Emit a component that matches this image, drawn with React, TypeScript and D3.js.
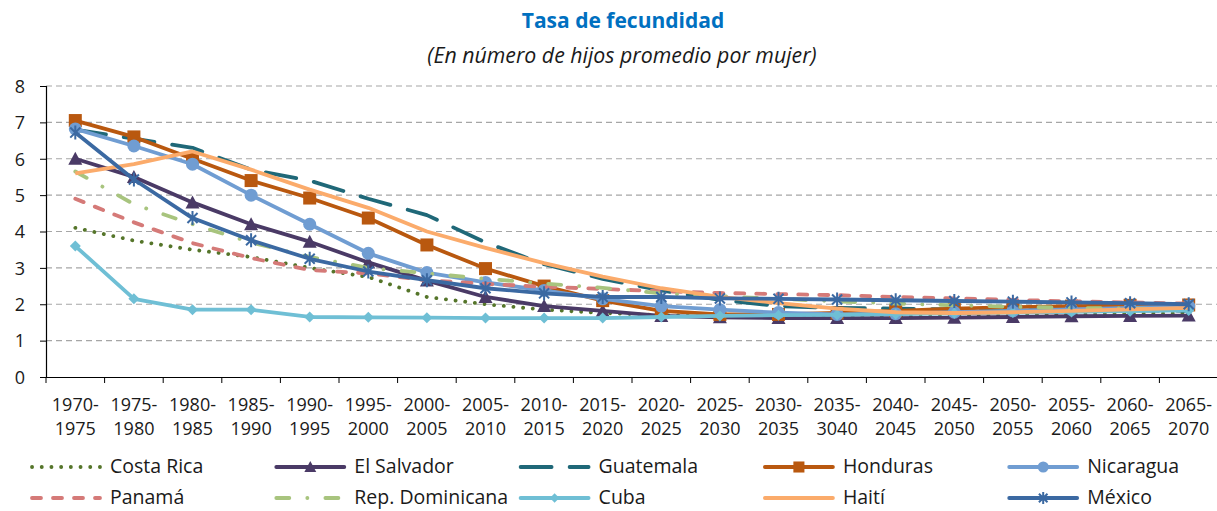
import React, { useRef, useEffect } from "react";
import * as d3 from "d3";

const periodStart = ["1970-", "1975-", "1980-", "1985-", "1990-", "1995-", "2000-", "2005-", "2010-", "2015-", "2020-", "2025-", "2030-", "2035-", "2040-", "2045-", "2050-", "2055-", "2060-", "2065-"];
const periodEnd = ["1975", "1980", "1985", "1990", "1995", "2000", "2005", "2010", "2015", "2020", "2025", "2030", "2035", "3040", "2045", "2050", "2055", "2060", "2065", "2070"];
const yTicks = [0, 1, 2, 3, 4, 5, 6, 7, 8];

const costaRica = [4.1, 3.75, 3.5, 3.3, 3.0, 2.75, 2.2, 2.0, 1.85, 1.76, 1.7, 1.67, 1.65, 1.65, 1.66, 1.68, 1.7, 1.72, 1.74, 1.76];
const elSalvador = [6.0, 5.5, 4.8, 4.2, 3.72, 3.15, 2.65, 2.2, 1.95, 1.82, 1.68, 1.64, 1.62, 1.62, 1.62, 1.63, 1.65, 1.67, 1.68, 1.69];
const guatemala = [6.8, 6.55, 6.3, 5.7, 5.4, 4.9, 4.45, 3.7, 3.1, 2.7, 2.38, 2.12, 1.95, 1.9, 1.88, 1.86, 1.85, 1.84, 1.83, 1.82];
const honduras = [7.05, 6.6, 6.0, 5.4, 4.92, 4.37, 3.63, 2.98, 2.5, 2.1, 1.82, 1.72, 1.72, 1.76, 1.82, 1.88, 1.92, 1.95, 1.97, 1.98];
const nicaragua = [6.82, 6.35, 5.85, 5.0, 4.2, 3.4, 2.87, 2.6, 2.38, 2.15, 1.95, 1.85, 1.77, 1.72, 1.74, 1.78, 1.82, 1.86, 1.9, 1.95];
const panama = [4.9, 4.25, 3.68, 3.27, 2.94, 2.85, 2.66, 2.56, 2.48, 2.42, 2.36, 2.31, 2.28, 2.25, 2.2, 2.16, 2.12, 2.08, 2.05, 2.02];
const repDominicana = [5.65, 4.75, 4.2, 3.7, 3.3, 3.0, 2.85, 2.7, 2.57, 2.45, 2.3, 2.22, 2.15, 2.08, 2.02, 1.97, 1.93, 1.9, 1.88, 1.86];
const cuba = [3.6, 2.15, 1.85, 1.85, 1.65, 1.64, 1.63, 1.62, 1.62, 1.62, 1.65, 1.68, 1.7, 1.71, 1.73, 1.75, 1.77, 1.79, 1.81, 1.83];
const haiti = [5.6, 5.85, 6.2, 5.7, 5.15, 4.65, 4.0, 3.55, 3.13, 2.76, 2.44, 2.2, 2.03, 1.88, 1.78, 1.76, 1.78, 1.82, 1.86, 1.9];
const mexico = [6.72, 5.43, 4.37, 3.76, 3.25, 2.9, 2.66, 2.44, 2.3, 2.2, 2.2, 2.16, 2.15, 2.13, 2.11, 2.09, 2.07, 2.05, 2.03, 2.0];

type Marker = "none" | "triangle" | "square" | "circle" | "diamond" | "star";

interface Series {
  name: string;
  values: number[];
  color: string;
  dash?: string;
  cap?: string;
  marker: Marker;
}

const series: Series[] = [
  { name: "Costa Rica", values: costaRica, color: "#55752a", dash: "0.1,9.6", cap: "round", marker: "none" },
  { name: "El Salvador", values: elSalvador, color: "#4a3a66", marker: "triangle" },
  { name: "Guatemala", values: guatemala, color: "#1f6878", dash: "31,18", cap: "round", marker: "none" },
  { name: "Honduras", values: honduras, color: "#b9580f", marker: "square" },
  { name: "Nicaragua", values: nicaragua, color: "#709dd2", marker: "circle" },
  { name: "Panamá", values: panama, color: "#d57a78", dash: "9,12", cap: "round", marker: "none" },
  { name: "Rep. Dominicana", values: repDominicana, color: "#a8c47e", dash: "13,18,0.1,18", cap: "round", marker: "none" },
  { name: "Cuba", values: cuba, color: "#6fbfd5", marker: "diamond" },
  { name: "Haití", values: haiti, color: "#fbab6b", marker: "none" },
  { name: "México", values: mexico, color: "#3b69a2", marker: "star" },
];

const FONT = "'Open Sans', 'Noto Sans', sans-serif";
const LINE_W = 3.8;

function drawMarker(g: d3.Selection<SVGGElement, unknown, null, undefined>, m: Marker, x: number, y: number, color: string, k = 1) {
  if (m === "triangle") {
    g.append("path").attr("d", `M${x},${y - 7 * k}L${x + 7 * k},${y + 6 * k}L${x - 7 * k},${y + 6 * k}Z`).attr("fill", color);
  } else if (m === "square") {
    g.append("rect").attr("x", x - 6.5 * k).attr("y", y - 6.5 * k).attr("width", 13 * k).attr("height", 13 * k).attr("fill", color);
  } else if (m === "circle") {
    g.append("circle").attr("cx", x).attr("cy", y).attr("r", 6.5 * k).attr("fill", color);
  } else if (m === "diamond") {
    g.append("path").attr("d", `M${x},${y - 5.5 * k}L${x + 5.5 * k},${y}L${x},${y + 5.5 * k}L${x - 5.5 * k},${y}Z`).attr("fill", color);
  } else if (m === "star") {
    const r = 7 * k;
    const d = r * 0.72;
    g.append("path")
      .attr("d", `M${x},${y - r}L${x},${y + r}M${x - d},${y - d}L${x + d},${y + d}M${x - d},${y + d}L${x + d},${y - d}`)
      .attr("stroke", color)
      .attr("stroke-width", 2)
      .attr("fill", "none");
  }
}

export default function App() {
  const svgRef = useRef<SVGSVGElement>(null);

  useEffect(() => {
    document.body.style.margin = "0";
    if (!svgRef.current) return;
    const svg = d3.select(svgRef.current);
    svg.selectAll("*").remove();

    const width = 1217;
    const height = 511;
    const left = 46;
    const right = 1218;
    const top = 86;
    const bottom = 377;

    svg.attr("width", width).attr("height", height);
    svg.append("rect").attr("width", width).attr("height", height).attr("fill", "#fff");

    const x = d3.scaleBand<number>().domain(d3.range(periodStart.length)).range([left, right]);
    const y = d3.scaleLinear().domain([0, 8]).range([bottom, top]);
    const cx = (i: number) => (x(i) || 0) + x.bandwidth() / 2;

    // Titles
    svg.append("text")
      .attr("x", 623).attr("y", 28)
      .attr("text-anchor", "middle")
      .attr("fill", "#0070c0")
      .attr("font-size", "21px")
      .attr("font-weight", "bold")
      .attr("font-family", FONT)
      .text("Tasa de fecundidad");
    svg.append("text")
      .attr("x", 622).attr("y", 63)
      .attr("text-anchor", "middle")
      .attr("fill", "#1a1a1a")
      .attr("font-size", "21.3px")
      .attr("font-style", "italic")
      .attr("font-family", FONT)
      .text("(En número de hijos promedio por mujer)");

    // Grid
    svg.append("g")
      .selectAll("line")
      .data(yTicks.filter((t) => t > 0))
      .enter()
      .append("line")
      .attr("x1", left).attr("x2", right)
      .attr("y1", (d) => y(d)).attr("y2", (d) => y(d))
      .attr("stroke", "#a6a6a6")
      .attr("stroke-width", 1.2)
      .attr("stroke-dasharray", "6,4");

    // Y axis
    const yAxis = svg.append("g")
      .attr("transform", `translate(${left},0)`)
      .call(d3.axisLeft(y).tickValues(yTicks).tickSize(6).tickFormat(d3.format("d")));
    yAxis.select(".domain").attr("stroke", "#000").attr("stroke-width", 1.2);
    yAxis.selectAll(".tick line").attr("stroke", "#000");
    yAxis.selectAll("text")
      .attr("x", -26)
      .attr("dy", "0.35em")
      .attr("fill", "#1a1a1a")
      .attr("font-size", "18px")
      .attr("font-family", FONT)
      .style("text-anchor", "middle");

    // X axis
    const xAxis = svg.append("g")
      .attr("transform", `translate(0,${bottom})`)
      .call(d3.axisBottom(x).tickSize(0).tickFormat(() => ""));
    xAxis.select(".domain").attr("stroke", "#000").attr("stroke-width", 1.2);
    svg.append("g")
      .selectAll("line")
      .data(d3.range(periodStart.length + 1))
      .enter()
      .append("line")
      .attr("x1", (d) => left + d * x.bandwidth())
      .attr("x2", (d) => left + d * x.bandwidth())
      .attr("y1", bottom).attr("y2", bottom + 6)
      .attr("stroke", "#000");
    const xl = svg.append("g");
    periodStart.forEach((s, i) => {
      const t = xl.append("text")
        .attr("x", cx(i))
        .attr("text-anchor", "middle")
        .attr("fill", "#1a1a1a")
        .attr("font-size", "18px")
        .attr("font-family", FONT);
      t.append("tspan").attr("x", cx(i)).attr("y", 411).text(s);
      t.append("tspan").attr("x", cx(i)).attr("y", 435).text(periodEnd[i]);
    });

    // Series
    const line = d3.line<number>().x((_, i) => cx(i)).y((d) => y(d));
    series.forEach((s) => {
      const g = svg.append("g");
      g.append("path")
        .attr("d", line(s.values))
        .attr("fill", "none")
        .attr("stroke", s.color)
        .attr("stroke-width", LINE_W)
        .attr("stroke-dasharray", s.dash || null)
        .attr("stroke-linecap", s.cap || "butt")
        .attr("stroke-linejoin", "round");
      s.values.forEach((v, i) => drawMarker(g, s.marker, cx(i), y(v), s.color));
    });

    // Legend
    const legend = svg.append("g");
    series.forEach((s, i) => {
      const col = i % 5;
      const row = Math.floor(i / 5);
      const lx = 32 + col * 244.3;
      const ly = 467 + row * 31;
      const g = legend.append("g");
      g.append("line")
        .attr("x1", lx).attr("x2", lx + 68)
        .attr("y1", ly).attr("y2", ly)
        .attr("stroke", s.color)
        .attr("stroke-width", LINE_W)
        .attr("stroke-dasharray", s.dash || null)
        .attr("stroke-linecap", s.cap || "round");
      drawMarker(g, s.marker, lx + 34, ly, s.color, 0.85);
      g.append("text")
        .attr("x", lx + 78).attr("y", ly + 6)
        .attr("fill", "#1a1a1a")
        .attr("font-size", "19.5px")
        .attr("font-family", FONT)
        .text(s.name);
    });
  }, []);

  return <svg ref={svgRef} style={{ display: "block" }} />;
}
